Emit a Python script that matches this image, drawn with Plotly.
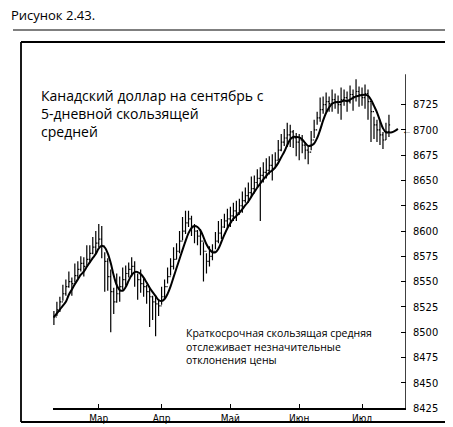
import plotly.graph_objects as go
import pandas as pd

closes = [8515,8522,8530,8538,8545, 8550,8548,8556,8562,8568, 8565,8572,8578,8584,8588,
          8592,8585,8570, 8555,8540,8530, 8538,8545,8552, 8558,8562,8565, 8560,8552,8548,
          8545,8540,8535, 8530,8528,8526, 8535,8545,8555, 8565,8572,8580, 8590,8600,8608,
          8612,8605,8600, 8595,8590,8580, 8570,8575,8580, 8590,8598,8604, 8610,8612,8615,
          8620,8618,8625, 8630,8635,8638, 8642,8648,8652, 8655,8658,8660, 8665,8662,8670,
          8680,8688,8692, 8695,8698,8692, 8688,8690,8685, 8680,8678,8690, 8700,8712,8720,
          8725,8728,8726, 8730,8728,8725, 8730,8732,8728, 8735,8733,8738, 8735,8732,8736,
          8728,8718,8705, 8700,8695,8690, 8698,8705,8700, 8702,8700]
high_off = [6,8,5,9,7, 10,6,12,8,7, 9,14,8,10,12, 15,20,9, 18,22,14, 20,10,12, 8,7,9,
            10,6,14, 8,7,9, 6,8,6, 10,7,9, 8,12,8, 10,14,12, 8,10,7, 6,12,9, 8,10,7,
            9,12,8, 7,10,9, 8,12,7, 9,8,10, 12,7,9, 8,10,12, 9,14,8, 10,8,9, 12,7,8,
            9,6,10, 8,7,9, 10,6,12, 8,9,7, 10,8,9, 12,8,10, 9,7,12, 8,10,9, 12,9,8,
            10,15,8, 9,10,8]
low_off = [8,6,10,7,9, 6,12,7,9,8, 10,6,9,7,10, 8,12,30, 14,40,12, 9,15,10, 12,8,10,
           15,20,9, 10,12,30, 18,32,10, 8,12,7, 9,10,8, 12,9,11, 8,10,12, 9,14,30,
           12,10,9, 8,10,12, 7,9,11, 10,8,9, 12,7,10, 8,11,9, 45,10,8, 9,12,7, 10,9,8,
           12,15,10, 14,20,8, 9,12,10, 8,7,12, 9,10,8, 12,7,9, 20,8,10, 9,14,10,
           12,8,15, 18,30,14, 12,10,9, 8,12]
month_pos = [15, 36, 59, 82, 103]
month_labels = ["Мар", "Апр", "Май", "Июн", "Июл"]
y_ticks = [8425, 8450, 8475, 8500, 8525, 8550, 8575, 8600, 8625, 8650, 8675, 8700, 8725]

idx = list(range(len(closes)))
highs = [c + h for c, h in zip(closes, high_off)]
lows = [c - l for c, l in zip(closes, low_off)]
opens = [closes[0]] + closes[:-1]
ma = pd.Series(closes).rolling(5, min_periods=1).mean().tolist()

fig = go.Figure()
fig.add_trace(go.Ohlc(x=idx, open=opens, high=highs, low=lows, close=closes,
                      increasing_line_color="black", decreasing_line_color="black",
                      line_width=1.2, tickwidth=0.4, showlegend=False))
fig.add_trace(go.Scatter(x=idx, y=ma, mode="lines", line=dict(color="black", width=2, shape="spline"),
                         showlegend=False))

narrow = "DejaVu Sans Condensed, Liberation Sans Narrow, sans-serif"
W, H = 353, 360
L, R, T, B = -32/W, 1+47/W, 1+6/H, -14/H
edge = dict(color="black", width=1.8)
fig.update_layout(
    width=453, height=427, margin=dict(l=45, r=55, t=40, b=27),
    paper_bgcolor="white", plot_bgcolor="white",
    font=dict(family="Open Sans, sans-serif", color="black"),
    xaxis=dict(range=[-0.3, 117.7], tickvals=month_pos, ticktext=month_labels, ticks="inside",
               ticklen=4, tickcolor="black", showgrid=False, zeroline=False, rangeslider=dict(visible=False),
               showline=True, linecolor="black", linewidth=1.5, tickfont=dict(family=narrow, size=10)),
    yaxis=dict(range=[8425, 8781], side="right", tickvals=y_ticks, ticks="inside", ticklen=5,
               tickcolor="black", showgrid=False, zeroline=False, showline=False,
               ticklabelstandoff=6, tickfont=dict(family=narrow, size=11)),
    shapes=[
        dict(type="line", xref="x", yref="y", x0=117.7, x1=117.7, y0=8425, y1=8755,
             line=dict(color="black", width=1.5)),
        dict(type="line", xref="paper", yref="paper", x0=L, x1=R, y0=T, y1=T, line=edge),
        dict(type="line", xref="paper", yref="paper", x0=L, x1=R, y0=B, y1=B, line=edge),
        dict(type="line", xref="paper", yref="paper", x0=L, x1=L, y0=B, y1=T, line=edge),
        dict(type="line", xref="paper", yref="paper", x0=R, x1=R, y0=B, y1=T, line=edge),
        dict(type="line", xref="paper", yref="paper", x0=-40/W, x1=1+50/W,
             y0=1+18/H, y1=1+18/H, line=dict(color="black", width=1.2)),
    ],
    annotations=[
        dict(xref="paper", yref="paper", x=-44/W, y=1+22/H, xanchor="left", yanchor="bottom",
             text="Рисунок 2.43.", showarrow=False, font=dict(size=13)),
        dict(xref="paper", yref="paper", x=-14/W, y=1-36/H, xanchor="left", yanchor="top",
             text="Канадский доллар на сентябрь с<br>5-дневной скользящей<br>средней", align="left",
             showarrow=False, font=dict(size=14)),
        dict(xref="paper", yref="paper", x=131/W, y=1-276/H, xanchor="left", yanchor="top",
             text="Краткосрочная скользящая средняя<br>отслеживает незначительные<br>отклонения цены",
             align="left", showarrow=False, font=dict(size=10.5)),
        dict(xref="paper", yref="y", x=1+1/W, y=8700, xanchor="center", yanchor="middle",
             text="←", showarrow=False, font=dict(size=10)),
    ],
)
fig.write_html("out.html")
